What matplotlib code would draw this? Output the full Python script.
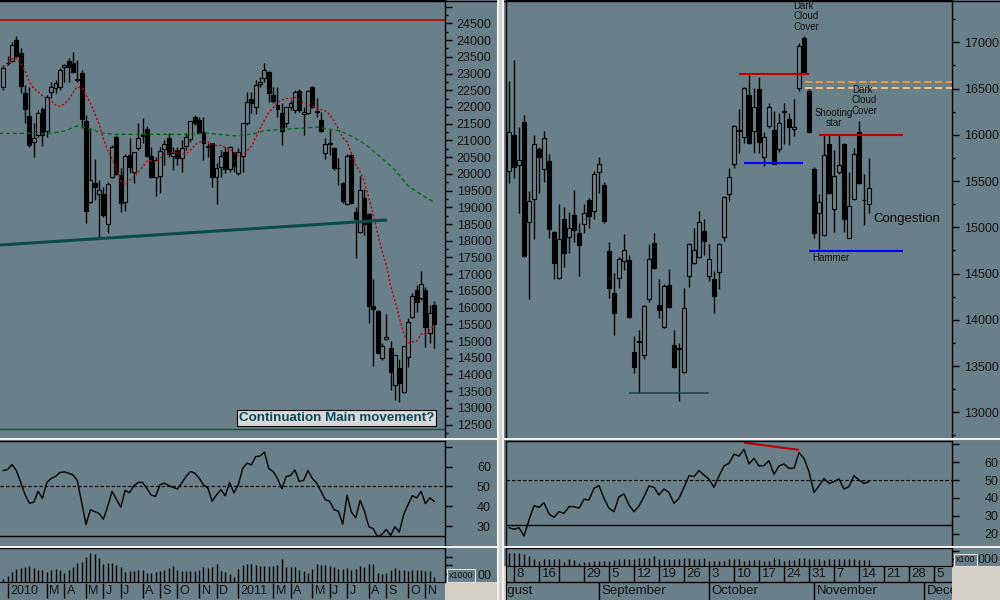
import matplotlib
matplotlib.use("Agg")
import matplotlib.pyplot as plt
import matplotlib.transforms as mtransforms
from matplotlib.patches import Rectangle
from matplotlib.lines import Line2D
from matplotlib.ticker import MultipleLocator
import numpy as np
import pandas as pd

plt.rcParams['font.family'] = ['Liberation Sans', 'DejaVu Sans']

BG = '#697f89'
FRAME = '#d4d0c8'
INK = '#141414'
W, H = 1000, 600

# ---------------- weekly data (left window), weeks from 21 Dec 2009
wk_start = '2009-12-21'
wk_open = [22587, 23300, 23374, 24002, 23603, 22407, 21730, 20962, 21161, 21929,
           21291, 22457, 22557, 22587, 23185, 23374, 23324, 22826, 23025, 21580,
           19168, 19736, 19387, 19397, 18490, 19915, 21111, 19965, 19168, 20563,
           20065, 20783, 21181, 21341, 20534, 19915, 19945, 20743, 21062, 20543,
           20713, 20464, 20843, 21032, 21690, 21610, 21241, 20833, 20912, 19896,
           20215, 20663, 20135, 20643, 20015, 20534, 21510, 22228, 21989, 22676,
           22856, 23045, 22357, 22058, 21809, 21510, 22009, 21909, 22477, 21779,
           21809, 22587, 21879, 21610, 20633, 20912, 20763, 20185, 19716, 19088,
           20553, 18849, 18271, 19268, 18799, 16048, 15899, 14483, 15052, 14782,
           13686, 14185, 13467, 14513, 15710, 16527, 16278, 16527, 15231, 16078]
wk_high = [23254, 23524, 23952, 24122, 23753, 22656, 22587, 21510, 21909, 22009,
           22357, 22756, 22806, 23155, 23284, 23454, 23653, 23404, 23105, 21760,
           21361, 20434, 19816, 19597, 19766, 20862, 21161, 20165, 20593, 21062,
           20663, 21510, 21660, 21430, 20813, 20514, 20813, 21012, 21211, 20813,
           20813, 21012, 21211, 21580, 21750, 21710, 21710, 20912, 20912, 20315,
           20713, 20813, 20842, 20663, 20763, 21530, 22457, 22457, 22806, 22906,
           23324, 23085, 22607, 22607, 22108, 22009, 22208, 22507, 22527, 22009,
           22507, 22627, 22258, 21859, 21062, 21311, 20813, 20464, 19766, 20593,
           20593, 19019, 19935, 19537, 18819, 16846, 15928, 14932, 15809, 15012,
           14583, 14453, 14862, 15680, 16447, 16676, 17095, 16627, 16078, 16208]
wk_low = [22507, 23254, 23354, 23484, 22427, 21530, 20813, 20514, 21111, 20843,
          21111, 22258, 22407, 22507, 22756, 22756, 23025, 22756, 21361, 18520,
          19138, 19218, 18072, 18719, 18241, 19866, 19965, 18869, 18899, 20015,
          19716, 20713, 20912, 20514, 19886, 19348, 19417, 20265, 20514, 20115,
          20265, 20065, 20713, 20962, 21460, 21211, 20414, 20514, 19597, 19099,
          19896, 20015, 20065, 20045, 19965, 20065, 21460, 21809, 21789, 22587,
          22756, 22158, 22108, 21710, 20862, 21410, 21909, 21809, 21859, 21161,
          21789, 21959, 21690, 21261, 20444, 20563, 20115, 19667, 19138, 19068,
          19099, 17473, 18221, 18171, 15530, 14264, 14633, 14434, 15032, 13537,
          13238, 13188, 13437, 14234, 15680, 15879, 16228, 14812, 14932, 14780]
wk_close = [23155, 23310, 23853, 23524, 22627, 21939, 20862, 21062, 21809, 21161,
            22308, 22607, 22726, 23105, 23245, 23205, 23055, 22806, 21630, 18899,
            19816, 19597, 19507, 18769, 19696, 20813, 19995, 19138, 20543, 20215,
            20643, 21082, 21131, 20543, 19915, 20414, 20683, 20882, 20583, 20633,
            20464, 20783, 21092, 21580, 21510, 21231, 20912, 20793, 19915, 20165,
            20534, 20135, 20813, 20245, 20643, 21510, 22138, 22108, 22656, 22736,
            23105, 22407, 22188, 21929, 21281, 22009, 22128, 22437, 21909, 21839,
            22477, 22009, 21859, 21291, 20882, 20892, 20185, 20165, 19198, 20543,
            19118, 18640, 19517, 18490, 16058, 15948, 14653, 14852, 15111, 14085,
            14583, 13736, 14862, 15560, 16347, 16178, 16706, 15430, 15829, 15500]
wk_rsi = [58, 58.5, 61, 58, 52, 45.8, 41.5, 42, 47.5, 44,
          52, 54, 55, 57, 57.3, 56.6, 55.8, 53, 42, 30.8,
          38.2, 37.3, 36.4, 33.5, 40, 47.5, 43.5, 39.5, 48, 46.8,
          50.3, 52, 52, 49, 45.6, 45, 50.8, 51.7, 50.4, 49.6,
          48.7, 51.7, 55, 57.5, 56.7, 54.2, 50.8, 49.2, 42.5, 45.8,
          48.3, 45.3, 52, 46.7, 50.8, 59, 61.7, 60.8, 65, 65.3,
          67.3, 59, 57.5, 54, 48.8, 55, 55.5, 58.3, 52.5, 53,
          58, 54, 51.7, 47.5, 43.3, 42.5, 38.3, 37.5, 31, 45.5,
          37, 34.2, 43, 37.5, 29.7, 28.7, 24.7, 25.8, 28.3, 25.3,
          29.7, 27, 35.8, 40.8, 45.3, 44.2, 47.5, 41.3, 44.2, 42.5]
wk_vol = [10, 17, 30, 40, 43, 45, 47, 43, 35, 35,
          30, 35, 38, 35, 27, 35, 45, 55, 60, 75,
          85, 82, 70, 53, 57, 57, 50, 45, 30, 32,
          33, 35, 35, 27, 27, 30, 33, 35, 43, 47,
          35, 33, 32, 32, 33, 35, 45, 43, 45, 53,
          33, 30, 23, 15, 40, 50, 53, 52, 50, 47,
          47, 47, 47, 50, 67, 45, 45, 45, 35, 33,
          27, 40, 53, 50, 50, 47, 45, 40, 40, 43,
          35, 40, 47, 45, 53, 53, 27, 23, 27, 35,
          42, 37, 37, 33, 37, 35, 35, 33, 33, 15]
# long moving average
ma_long_wk = [-1, 7, 10, 14, 17, 18, 21, 22, 26, 34, 42, 47, 51, 54, 58, 60, 64, 68, 72,
              75, 77, 80, 83, 87, 90, 93, 96, 99]
ma_long_val = [21211, 21211, 21191, 21281, 21430, 21410, 21311, 21231, 21181, 21181,
               21181, 21211, 21161, 21131, 21211, 21291, 21331, 21361, 21401,
               21330, 21300, 21130, 20900, 20470, 20115, 19640, 19380, 19150]

# ---------------- daily data (right window), sessions from 5 Aug 2011
day_start = '2011-08-05'
day_holidays = ['2011-08-15']
day_open = [15609, 15998, 15673, 16138, 15057, 15306, 15846, 15630, 15717, 14949,
            14452, 15090, 14895, 15133, 14938, 15036, 15295, 15176, 15598, 15457,
            14744, 14290, 14452, 14636, 14646, 13652, 13771, 13619, 14225, 14830,
            14160, 13922, 14376, 13728, 13695, 13436, 14473, 14614, 14679, 14960,
            14473, 14441, 14517, 14895, 15360, 15684, 16041, 15976, 16430, 16041,
            16495, 15760, 16095, 16052, 15846, 16257, 16171, 16063, 16506, 17046,
            16473, 15630, 15155, 14917, 15900, 15198, 15598, 15900, 14884, 15306,
            16030, 15295, 15252]
day_high = [16581, 16808, 16084, 16214, 15392, 15998, 15868, 16041, 15792, 14960,
            15252, 15219, 15165, 15403, 15046, 15252, 15317, 15609, 15760, 15490,
            14841, 14506, 14680, 14928, 14701, 13825, 13890, 14160, 14819, 14938,
            14441, 14387, 14549, 13890, 13749, 14344, 14830, 14992, 15176, 15090,
            14819, 14527, 14830, 15340, 15641, 16110, 16279, 16520, 16646, 16506,
            16625, 16030, 16344, 16257, 16235, 16344, 16235, 16387, 16992, 17068,
            16506, 15650, 15360, 15998, 15998, 15836, 15998, 15910, 15598, 15857,
            16149, 15576, 15749]
day_low = [15479, 15533, 15155, 14680, 14225, 14874, 15371, 15490, 14884, 14441,
           14441, 14571, 14722, 14841, 14473, 14938, 14992, 15090, 15371, 15046,
           14236, 13836, 14344, 14538, 14020, 13425, 13209, 13576, 14192, 14549,
           14019, 13910, 14130, 13480, 13122, 13430, 14355, 14603, 14670, 14701,
           14419, 14073, 14333, 14852, 15284, 15641, 15803, 15911, 15900, 15803,
           15803, 15663, 16073, 15680, 15814, 15900, 15890, 15987, 16473, 16660,
           16020, 14884, 14765, 14906, 15360, 14949, 15576, 14949, 14880, 15300,
           15470, 15025, 15155]
day_close = [16030, 15652, 15727, 14690, 15284, 15900, 15760, 15965, 14982, 14614,
             14874, 14722, 14992, 14971, 14809, 15155, 15122, 15576, 15684, 15068,
             14344, 14073, 14657, 14755, 14030, 13490, 13760, 14149, 14657, 14560,
             14106, 14365, 14138, 13490, 13685, 14127, 14819, 14755, 15057, 14852,
             14657, 14257, 14819, 15327, 15544, 16095, 16050, 16506, 15911, 16300,
             15922, 15976, 16300, 15684, 16127, 16250, 16084, 16084, 16960, 16668,
             16030, 14938, 15273, 15781, 15371, 15555, 15673, 15090, 15230, 15792,
             15479, 15290, 15425]
day_rsi = [23.5, 22.6, 23.5, 18.9, 27.8, 35.7, 34.8, 37.4, 31.1, 29.3,
           32.4, 31.5, 35.2, 35.2, 34.3, 39.3, 38.9, 45.4, 46.9, 39.8,
           34.3, 32.4, 40.7, 42.2, 36.1, 32.4, 35.6, 40.7, 46.7, 45.9,
           41.7, 45, 43.1, 37, 39.8, 45.9, 52.4, 51.9, 55.2, 52.8,
           50.4, 45.9, 52.2, 57.8, 59.3, 64.3, 63.3, 67, 58.9, 62,
           57.8, 58, 60.7, 53.1, 57.8, 58.9, 56.5, 56.5, 65.2, 62,
           54.6, 43.1, 46.7, 50.9, 48.1, 49.1, 50.6, 45, 46.3, 52.4,
           50, 48.1, 49.1]
day_vol = [40, 40, 38, 37, 30, 20, 15, 20, 20, 20,
           20, 13, 20, 17, 10, 13, 13, 15, 15, 15,
           15, 17, 20, 20, 20, 20, 23, 23, 25, 30,
           20, 20, 20, 20, 20, 23, 23, 20, 20, 23,
           15, 15, 15, 15, 20, 20, 20, 15, 17, 17,
           17, 15, 15, 23, 20, 15, 17, 17, 23, 23,
           22, 20, 20, 17, 20, 20, 20, 20, 20, 20,
           17, 17, 17]

weeks = pd.date_range(wk_start, periods=len(wk_close), freq='W-MON')
cal = pd.bdate_range('2011-08-01', '2011-12-09')
cal = cal[~cal.isin(pd.to_datetime(day_holidays))]
day0 = cal.get_loc(pd.Timestamp(day_start))


def day_pos(d):
    return cal.get_loc(pd.Timestamp(d)) - day0


fig = plt.figure(figsize=(10, 6), dpi=100, facecolor=FRAME)


def px_axes(x0, y0, x1, y1):
    return fig.add_axes([x0 / W, 1 - y1 / H, (x1 - x0) / W, (y1 - y0) / H])


def px_rect(x0, y0, x1, y1, color, z=-5, ec='none'):
    fig.add_artist(Rectangle((x0 / W, 1 - y1 / H), (x1 - x0) / W, (y1 - y0) / H,
                             transform=fig.transFigure, facecolor=color,
                             edgecolor=ec, lw=0.8, zorder=z))


def px_line(x0, y0, x1, y1, color, lw=1.0, z=5):
    fig.add_artist(Line2D([x0 / W, x1 / W], [1 - y0 / H, 1 - y1 / H],
                          transform=fig.transFigure, color=color, lw=lw, zorder=z))


def style(ax, left=True, xlim=None):
    ax.set_facecolor(BG)
    ax.spines['bottom'].set_visible(False)
    ax.spines['left'].set_visible(left)
    for s in ax.spines.values():
        s.set_color('black')
        s.set_linewidth(1)
    ax.set_xticks([])
    ax.yaxis.tick_right()
    ax.tick_params(axis='y', which='major', direction='out', length=5, width=1,
                   color='black', labelcolor=INK, labelsize=9, pad=3.5)
    ax.tick_params(axis='y', which='minor', direction='out', length=2.5, width=1,
                   color='black')
    if xlim:
        ax.set_xlim(*xlim)


def draw_candles(ax, o, h, l, c, width):
    o, h, l, c = (np.asarray(v, dtype=float) for v in (o, h, l, c))
    x = np.arange(len(c))
    ax.vlines(x, l, h, color='black', lw=1.0, zorder=3)
    up = c >= o
    lo = np.minimum(o, c)
    ht = np.abs(c - o)
    ax.bar(x[~up], ht[~up], width, lo[~up], facecolor='black', edgecolor='black',
           lw=0.8, zorder=4)
    ax.bar(x[up], ht[up], width, lo[up], facecolor=BG, edgecolor='black',
           lw=0.8, zorder=4)


# window backgrounds
px_rect(0, 0, 497, 582, BG)
px_rect(503, 0, 1000, 566, BG)

LX = (-0.76, 101.5)
RX = (-0.6, 88.6)

# ---------------- left main
axLm = px_axes(0, 0, 445, 437)
style(axLm, left=False, xlim=LX)
axLm.set_ylim(12131, 25198)
ticks = np.arange(12500, 25001, 500)
axLm.set_yticks(ticks)
axLm.set_yticklabels([str(t) if t <= 24500 else '' for t in ticks])
axLm.yaxis.set_minor_locator(MultipleLocator(250))
draw_candles(axLm, wk_open, wk_high, wk_low, wk_close, 0.9)
ma_short = pd.Series(wk_close).rolling(10, min_periods=1).mean()
axLm.plot(np.arange(len(wk_close)), ma_short, color='#c00000', lw=1.0,
          dashes=(1.5, 1.5), zorder=5)
axLm.plot(ma_long_wk, ma_long_val, color='#0a6a1a', lw=1.0, dashes=(3, 2), zorder=5)
axLm.axhline(24590, color='#c00000', lw=1.2)
axLm.axhline(12380, color='#0a5a2a', lw=1.0)
axLm.plot([-0.76, 88.2], [17872, 18620], color='#0c4b4b', lw=2.2, zorder=6,
          solid_capstyle='butt')

fig.text(336.5 / W, 1 - 418 / H, 'Continuation Main movement?', ha='center',
         va='center', fontsize=9.6, fontweight='bold', color='#0e4a55', zorder=10,
         bbox=dict(boxstyle='square,pad=0.15', facecolor='#d8d8d8',
                   edgecolor='black', lw=0.8))

# ---------------- left RSI
axLr = px_axes(0, 441, 445, 546)
style(axLr, left=False, xlim=LX)
axLr.set_ylim(20.35, 72.85)
axLr.set_yticks([20, 30, 40, 50, 60, 70])
axLr.set_yticklabels(['', '30', '40', '50', '60', ''])
axLr.tick_params(axis='y', pad=18)
axLr.plot(np.arange(len(wk_rsi)), wk_rsi, color='black', lw=1.0)
axLr.axhline(50, color='black', lw=0.8, dashes=(3, 2))
axLr.axhline(25, color='black', lw=1.0)

# ---------------- left volume
axLv = px_axes(0, 548, 445, 582)
style(axLv, left=False, xlim=LX)
axLv.set_ylim(0, 101)
axLv.set_yticks([25, 50, 75])
axLv.set_yticklabels([])
axLv.vlines(np.arange(len(wk_vol)), 0, wk_vol, color='black', lw=1.0)
px_rect(447, 569, 475, 582, BG, z=9, ec='#e0e0e0')
fig.text(461 / W, 1 - 576 / H, 'x1000', ha='center', va='center', fontsize=6.5,
         color=INK, zorder=10)
fig.text(492 / W, 1 - 576 / H, '00', ha='right', va='center', fontsize=9,
         color=INK, zorder=8)

# ---------------- left date row
axLd = px_axes(0, 582, 445, 600)
axLd.set_facecolor(BG)
axLd.set_xlim(*LX)
axLd.set_ylim(0, 1)
axLd.set_xticks([])
axLd.set_yticks([])
for s in ['left', 'right', 'bottom']:
    axLd.spines[s].set_visible(False)
axLd.spines['top'].set_color('black')
offL = mtransforms.offset_copy(axLd.transData, fig=fig, x=2.5, y=0, units='dots')
for m in pd.date_range('2010-01-01', '2011-11-01', freq='MS'):
    if m.month == 2:
        continue
    fbd = pd.bdate_range(m, periods=1)[0]
    w = (fbd - weeks[0]).days // 7
    lab = str(m.year) if m.month == 1 else m.strftime('%b')[0]
    axLd.vlines(w, 0.12, 0.95, color='black', lw=1.0)
    axLd.text(w, 0.48, lab, transform=offL, ha='left', va='center', fontsize=9,
              color=INK)

# ---------------- right main
axRm = px_axes(506, 0, 952, 437)
style(axRm, left=True, xlim=RX)
axRm.set_ylim(12733, 17457)
axRm.set_yticks(np.arange(13000, 17001, 500))
axRm.yaxis.set_minor_locator(MultipleLocator(250))
draw_candles(axRm, day_open, day_high, day_low, day_close, 0.8)
axRm.hlines(16654, 46, 60, color='#c00000', lw=1.5, zorder=6)
axRm.hlines(15690, 47, 58.8, color='#0000ff', lw=1.5, zorder=6)
axRm.hlines(16000, 62, 78.8, color='#c00000', lw=1.5, zorder=6)
axRm.hlines(14745, 60, 78.8, color='#0000ff', lw=1.5, zorder=6)
axRm.hlines(13207, 24, 40, color='#1a4a4a', lw=1.2, zorder=6)
axRm.hlines(16567, 59.2, 88.6, color='#ff9a30', lw=1.3, linestyles=(0, (4, 2)), zorder=6)
axRm.hlines(16510, 59.2, 88.6, color='#ffc080', lw=1.3, linestyles=(0, (4, 2)), zorder=6)

note = dict(fontsize=7, color='#101010', linespacing=1.05, zorder=10)
fig.text(793 / W, 1 - 1 / H, 'Dark\nCloud\nCover', ha='left', va='top', **note)
fig.text(852 / W, 1 - 85 / H, 'Dark\nCloud\nCover', ha='left', va='top', **note)
fig.text(834 / W, 1 - 108 / H, 'Shooting\nstar', ha='center', va='top',
         multialignment='center', **note)
fig.text(812 / W, 1 - 253 / H, 'Hammer', ha='left', va='top', **note)
fig.text(873 / W, 1 - 219 / H, 'Congestion', ha='left', va='center', fontsize=9.5,
         color='#0a0a0a', zorder=10)

# ---------------- right RSI
axRr = px_axes(506, 441, 952, 546)
style(axRr, left=True, xlim=RX)
axRr.set_ylim(13.33, 71.67)
axRr.set_yticks([20, 30, 40, 50, 60, 70])
axRr.set_yticklabels(['20', '30', '40', '50', '60', ''])
axRr.tick_params(axis='y', pad=18.5)
axRr.plot(np.arange(len(day_rsi)), day_rsi, color='black', lw=1.0)
axRr.axhline(50, color='black', lw=0.8, dashes=(3, 2))
axRr.axhline(25, color='black', lw=1.0)
axRr.plot([47.2, 57.8], [70.7, 66.8], color='#c00000', lw=1.5)

# ---------------- right volume
axRv = px_axes(506, 548, 952, 566)
style(axRv, left=True, xlim=RX)
axRv.set_ylim(0, 54)
axRv.set_yticks([20, 45])
axRv.set_yticklabels([])
axRv.vlines(np.arange(len(day_vol)), 0, day_vol, color='black', lw=1.0)
px_rect(954, 554, 977, 566, BG, z=9, ec='#e0e0e0')
fig.text(965.5 / W, 1 - 560 / H, 'x100', ha='center', va='center', fontsize=6.5,
         color=INK, zorder=10)
fig.text(998 / W, 1 - 560 / H, '000', ha='right', va='center', fontsize=9,
         color=INK, zorder=8)

# ---------------- right date rows
axRd = px_axes(506, 566, 952, 600)
axRd.set_facecolor(BG)
axRd.set_xlim(*RX)
axRd.set_ylim(0, 1)
axRd.set_xticks([])
axRd.set_yticks([])
for s in ['right', 'bottom']:
    axRd.spines[s].set_visible(False)
for s in ['top', 'left']:
    axRd.spines[s].set_color('black')
mid = 18 / 34
axRd.axhline(mid, color='black', lw=1.0)
offR = mtransforms.offset_copy(axRd.transData, fig=fig, x=2.5, y=0, units='dots')
iso = cal.isocalendar()
first_days = pd.Series(cal, index=cal).groupby([iso.year.values, iso.week.values]).min()
no_label = ['2011-08-22']
for d in first_days:
    p = day_pos(d)
    if p < 0:
        continue
    axRd.vlines(p, mid, 1, color='black', lw=1.0)
    if d.strftime('%Y-%m-%d') not in no_label:
        axRd.text(p, (1 + mid) / 2, str(d.day), transform=offR, ha='left',
                  va='center', fontsize=9.5, color=INK)
for m in pd.date_range('2011-08-01', '2011-12-01', freq='MS'):
    fbd = pd.bdate_range(m, periods=1)[0]
    p = day_pos(fbd)
    axRd.vlines(p, 0, mid, color='black', lw=1.0)
    axRd.text(p, mid / 2, m.strftime('%B'), transform=offR, ha='left',
              va='center', fontsize=9.5, color=INK, clip_on=True)

# frame lines between panels and windows
for y in (438.5, 546.8):
    px_line(0, y, 497, y, '#eeeeee', lw=1.5)
    px_line(503, y, 1000, y, '#eeeeee', lw=1.5)
px_line(0, 0.5, 497, 0.5, 'black', lw=1.0)
px_line(503, 0.5, 1000, 0.5, 'black', lw=1.0)
px_line(497.5, 0, 497.5, 600, '#f2f2f2', lw=1.5)
px_line(503.5, 0, 503.5, 600, '#f2f2f2', lw=1.5)

fig.savefig('out.png', dpi=100, facecolor=FRAME)
